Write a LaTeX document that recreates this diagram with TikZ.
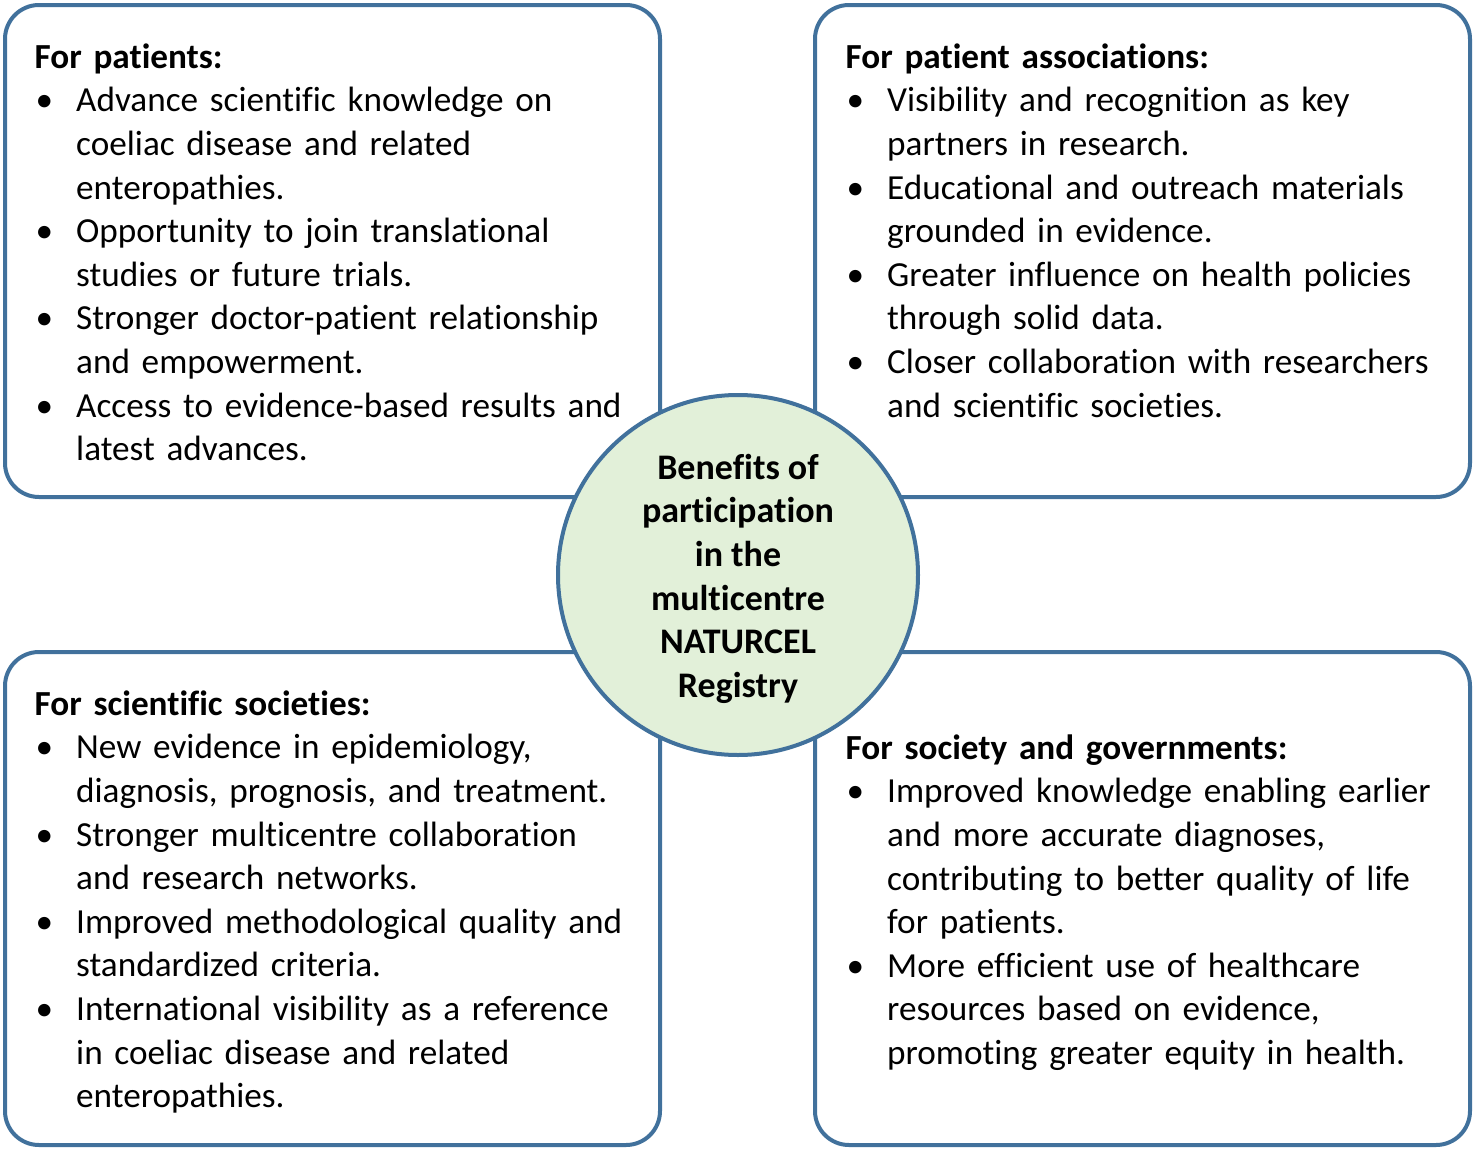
\documentclass[tikz,border=0pt]{standalone}
\usepackage{fontspec}
\setmainfont{Carlito}[Ligatures=NoCommon]
\definecolor{bordercol}{HTML}{41719C}
\definecolor{circfill}{HTML}{E2F0D9}
\newcommand{\bitem}[1]{\par\hangindent=41.5pt\hangafter=1\noindent\makebox[41.5pt][l]{\hspace{1pt}•}#1}
\newcommand{\btitle}[1]{\noindent\strut\textbf{#1}}
\begin{document}
\begin{tikzpicture}[x=1pt,y=-1pt,
  box/.style={draw=bordercol, line width=4pt, rounded corners=34pt, minimum width=655pt, minimum height=492pt, inner sep=0pt},
  txt/.style={anchor=north west, inner sep=0pt, text width=700pt,
    font=\fontsize{35.2}{43.6}\selectfont,
    execute at begin node={\rightskip=0pt plus 1fil\relax\parindent=0pt\parskip=0pt}},
  hub/.style={circle, draw=bordercol, fill=circfill, line width=4pt, minimum size=360pt, inner sep=0pt},
  hubtxt/.style={anchor=north, inner sep=0pt, align=center, font=\fontsize{36}{43.6}\selectfont\bfseries}]
\useasboundingbox (0,0) rectangle (1476,1151);
% boxes
\node[box, minimum height=492pt] (tl) at (332.5,251) {};
\node[box, minimum height=492pt] (tr) at (1142.5,251) {};
\node[box, minimum height=493pt] (bl) at (332.5,898.5) {};
\node[box, minimum height=493pt] (br) at (1142.5,898.5) {};
% centre circle
\node[hub] (hub) at (738,575) {};
\node[hubtxt] (hubtext) at (738,448.5) {\strut Benefits of\\participation\\in the\\multicentre\\NATURCEL\\Registry};
% texts
\node[txt] (tltext) at (34.5,37.5) {\btitle{For patients:}
\bitem{Advance scientific knowledge on\newline coeliac disease and related\newline enteropathies.}
\bitem{Opportunity to join translational\newline studies or future trials.}
\bitem{Stronger doctor-patient relationship\newline and empowerment.}
\bitem{Access to evidence-based results and\newline latest advances.}\par};
\node[txt] (trtext) at (845.5,37.5) {\btitle{For patient associations:}
\bitem{Visibility and recognition as key\newline partners in research.}
\bitem{Educational and outreach materials\newline grounded in evidence.}
\bitem{Greater influence on health policies\newline through solid data.}
\bitem{Closer collaboration with researchers\newline and scientific societies.}\par};
\node[txt] (bltext) at (34.5,684.5) {\btitle{For scientific societies:}
\bitem{New evidence in epidemiology,\newline diagnosis, prognosis, and treatment.}
\bitem{Stronger multicentre collaboration\newline and research networks.}
\bitem{Improved methodological quality and\newline standardized criteria.}
\bitem{International visibility as a reference\newline in coeliac disease and related\newline enteropathies.}\par};
\node[txt] (brtext) at (845.5,728.5) {\btitle{For society and governments:}
\bitem{Improved knowledge enabling earlier\newline and more accurate diagnoses,\newline contributing to better quality of life\newline for patients.}
\bitem{More efficient use of healthcare\newline resources based on evidence,\newline promoting greater equity in health.}\par};
\end{tikzpicture}
\end{document}
